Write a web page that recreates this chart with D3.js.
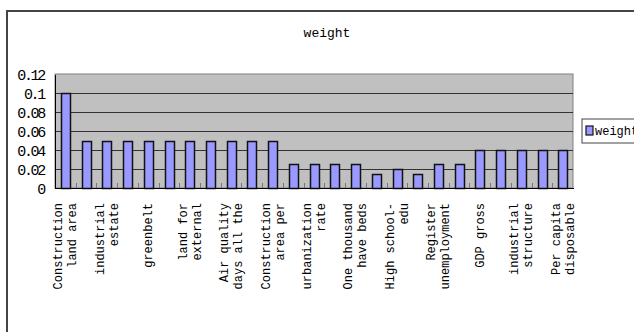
<html lang="en">
<head>
<meta charset="utf-8">
<title>weight</title>
<style>
  body { margin: 0; background: white; }
  svg { display: block; font-family: "Liberation Mono", "DejaVu Sans Mono", monospace; }
  .grid line { stroke: #333; shape-rendering: crispEdges; }
  .axis path, .axis line { shape-rendering: crispEdges; }
</style>
</head>
<body>
<script src="https://cdnjs.cloudflare.com/ajax/libs/d3/7.8.5/d3.min.js"></script>
<script>
// data
var weights = [0.1, 0.05, 0.05, 0.05, 0.05, 0.05, 0.05, 0.05, 0.05, 0.05, 0.05,
               0.025, 0.025, 0.025, 0.025, 0.015, 0.02, 0.015, 0.025, 0.025,
               0.04, 0.04, 0.04, 0.04, 0.04];
// only every other category label is shown (index 0, 2, 4 ...)
var shownLabels = [
  ["Construction", "land area"],
  ["industrial", "estate"],
  ["greenbelt"],
  ["land for", "external"],
  ["Air quality", "days all the"],
  ["Construction", "area per"],
  ["urbanization", "rate"],
  ["One thousand", "have beds"],
  ["High school-", "edu"],
  ["Register", "unemployment"],
  ["GDP gross"],
  ["industrial", "structure"],
  ["Per capita", "disposable"]
];
var yTicks = [0, 0.02, 0.04, 0.06, 0.08, 0.1, 0.12];
var seriesName = "weight";

var W = 634, H = 332;
var plot = {left: 55, right: 573, top: 74, bottom: 188};

var svg = d3.select("body").append("svg")
  .attr("width", W).attr("height", H);

// outer chart border
svg.append("rect")
  .attr("x", 7).attr("y", 11)
  .attr("width", W + 10).attr("height", H + 10)
  .attr("fill", "white").attr("stroke", "#444").attr("stroke-width", 2);

var x = d3.scaleBand()
  .domain(d3.range(weights.length))
  .range([plot.left, plot.right])
  .paddingInner(0.58).paddingOuter(0.29);
var xEdge = d3.scaleLinear().domain([0, weights.length]).range([plot.left, plot.right]);
var y = d3.scaleLinear().domain([0, 0.12]).range([plot.bottom, plot.top]);

// plot area
svg.append("rect")
  .attr("x", plot.left).attr("y", plot.top)
  .attr("width", plot.right - plot.left).attr("height", plot.bottom - plot.top)
  .attr("fill", "#c0c0c0").attr("stroke", "#808080");

svg.append("g").attr("class", "grid")
  .selectAll("line").data(yTicks.slice(1, -1)).enter().append("line")
  .attr("x1", plot.left).attr("x2", plot.right)
  .attr("y1", function(d) { return Math.round(y(d)) + 0.5; })
  .attr("y2", function(d) { return Math.round(y(d)) + 0.5; });

// tick marks between categories, pointing up
svg.append("g").selectAll("line").data(d3.range(1, weights.length)).enter().append("line")
  .attr("x1", function(d) { return Math.round(xEdge(d)) + 0.5; })
  .attr("x2", function(d) { return Math.round(xEdge(d)) + 0.5; })
  .attr("y1", plot.bottom).attr("y2", plot.bottom - 5)
  .attr("stroke", "#777");

// bars
svg.append("g").selectAll("rect").data(weights).enter().append("rect")
  .attr("x", function(d, i) { return Math.round(x(i)) + 0.5; })
  .attr("y", function(d) { return Math.round(y(d)) + 0.5; })
  .attr("width", Math.round(x.bandwidth()))
  .attr("height", function(d) { return Math.round(y(0)) - Math.round(y(d)); })
  .attr("fill", "#9999ff").attr("stroke", "#111").attr("stroke-width", 1.5);

// axes
var yAxis = d3.axisLeft(y).tickValues(yTicks).tickSize(0).tickPadding(11)
  .tickFormat(function(d) { return d === 0 ? "0" : String(+d.toFixed(2)); });
var gy = svg.append("g").attr("class", "axis")
  .attr("transform", "translate(" + plot.left + ",0)").call(yAxis);
gy.select(".domain").attr("stroke", "#000");
gy.selectAll("text").attr("font-size", 15).attr("fill", "#000")
  .attr("font-family", "Liberation Mono").attr("letter-spacing", -2.3)
  .attr("dy", "0.36em");

var xAxis = d3.axisBottom(x).tickSize(0).tickFormat("");
var gx = svg.append("g").attr("class", "axis")
  .attr("transform", "translate(0," + plot.bottom + ")").call(xAxis);
gx.select(".domain").attr("stroke", "#000");

// rotated category labels
var labG = svg.append("g");
shownLabels.forEach(function(lines, k) {
  var i = k * 2;
  var cx = x(i) + x.bandwidth() / 2;
  var n = lines.length;
  var t = labG.append("text")
    .attr("transform", "translate(" + cx + "," + (plot.bottom + 15) + ") rotate(-90)")
    .attr("text-anchor", "end")
    .attr("font-size", 12).attr("fill", "#000");
  lines.forEach(function(s, j) {
    t.append("tspan").attr("x", 0)
      .attr("y", (j - (n - 1) / 2) * 14 + 4)
      .text(s);
  });
});

// title
svg.append("text")
  .attr("x", 327).attr("y", 37)
  .attr("text-anchor", "middle")
  .attr("font-size", 13).attr("fill", "#000")
  .text(seriesName);

// legend
var lg = svg.append("g").attr("transform", "translate(582,119)");
lg.append("rect").attr("width", 70).attr("height", 24)
  .attr("fill", "white").attr("stroke", "#444");
lg.append("rect").attr("x", 4).attr("y", 7).attr("width", 7).attr("height", 9)
  .attr("fill", "#9999ff").attr("stroke", "#111").attr("stroke-width", 1.2);
lg.append("text").attr("x", 13).attr("y", 16)
  .attr("font-size", 12).attr("fill", "#000").text(seriesName);
</script>
</body>
</html>
